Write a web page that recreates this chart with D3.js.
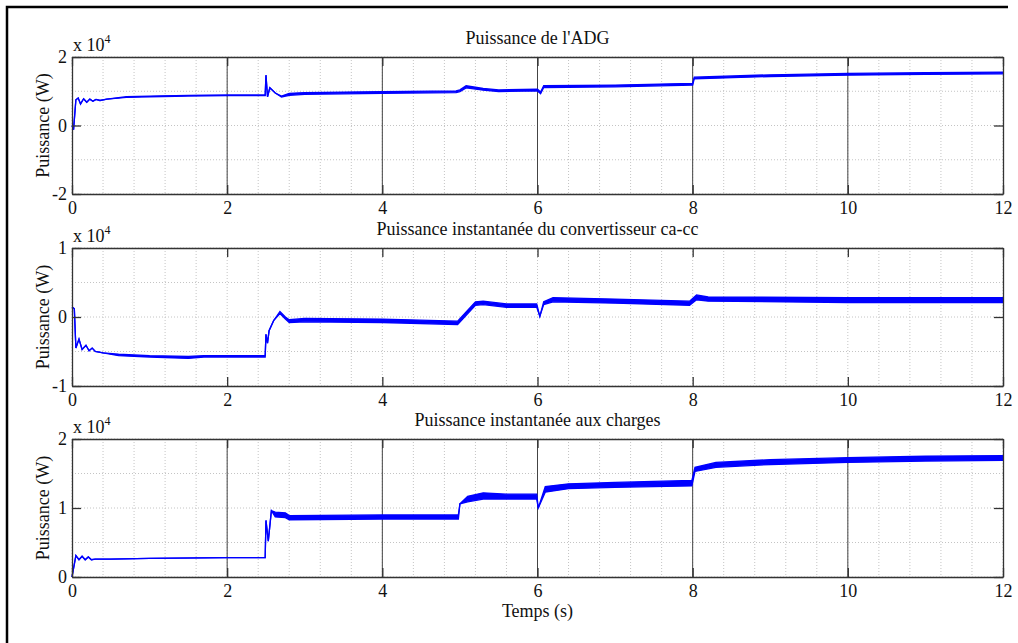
<!DOCTYPE html>
<html>
<head>
<meta charset="utf-8">
<script src="https://cdnjs.cloudflare.com/ajax/libs/d3/7.8.5/d3.min.js"></script>
<style>
  body { margin: 0; background: #fff; }
  text { font-family: "Liberation Serif", "Times New Roman", serif; fill: #111; }
</style>
</head>
<body>
<div id="chart"></div>
<script>
// Time ticks (s) and titles
var timeTicks = [0, 2, 4, 6, 8, 10, 12];
var titles = ["Puissance de l'ADG",
              "Puissance instantanée du convertisseur ca-cc",
              "Puissance instantanée aux charges"];

// Puissance de l'ADG (W) : low / high envelope of the ripple
var adgTime = [0, 0.02, 0.05, 0.08, 0.11, 0.15, 0.19, 0.23, 0.27, 0.31, 0.36, 0.45, 0.7, 1.0, 1.5, 2.0, 2.49,
               2.5, 2.52, 2.55, 2.62, 2.7, 2.8, 3.0, 4.0, 4.95, 5.0, 5.08, 5.3, 5.5, 6.0, 6.04, 6.08,
               7.0, 8.0, 8.02, 9.0, 10.0, 11.0, 12.0];
var adgLow  = [0, -1200, 7500, 8000, 6300, 7800, 6800, 7700, 7100, 7600, 7300, 7700, 8200, 8400, 8600, 8700, 8700,
               14700, 8400, 11000, 9500, 8300, 8800, 9100, 9400, 9600, 9900, 11000, 10300, 9900, 10100, 9300, 11100,
               11300, 11800, 13600, 14300, 14700, 14900, 15100];
var adgHigh = [0, -1200, 7500, 8000, 6300, 7800, 6800, 7700, 7100, 7600, 7300, 7700, 8400, 8600, 8800, 8900, 8900,
               14700, 8400, 11000, 9500, 8600, 9400, 9600, 9900, 10100, 10400, 11600, 10800, 10400, 10600, 9800, 11600,
               11800, 12300, 14100, 14800, 15200, 15400, 15600];

// Puissance du convertisseur ca-cc (W)
var convTime = [0, 0.03, 0.05, 0.09, 0.13, 0.18, 0.22, 0.26, 0.3, 0.4, 0.6, 1.0, 1.5, 1.7, 2.0, 2.49,
                2.5, 2.52, 2.54, 2.6, 2.68, 2.75, 2.8, 3.0, 4.0, 4.97, 5.2, 5.3, 5.6, 5.99, 6.03, 6.08,
                6.2, 7.0, 7.96, 8.05, 8.2, 10.0, 12.0];
var convLow  = [1500, 1200, -4500, -3200, -4700, -4100, -4900, -4500, -5000, -5200, -5600, -5800, -6000, -5800, -5800, -5800,
                -2500, -3800, -2000, -500, 500, -300, -800, -700, -800, -1100, 1700, 1800, 1400, 1400, 100, 1800,
                2200, 2000, 1700, 2500, 2300, 2100, 2100];
var convHigh = [1500, 1200, -4500, -3200, -4700, -4100, -4900, -4500, -5000, -5200, -5400, -5600, -5700, -5600, -5600, -5600,
                -2500, -3800, -2000, -500, 800, 0, -400, -200, -300, -600, 2200, 2300, 1900, 1900, 100, 2200,
                2800, 2600, 2300, 3200, 2900, 2800, 2800];

// Puissance instantanée aux charges (W)
var loadTime = [0, 0.05, 0.09, 0.13, 0.17, 0.21, 0.25, 0.3, 0.5, 1.0, 2.0, 2.49,
                2.5, 2.53, 2.57, 2.62, 2.75, 2.8, 4.0, 4.98, 5.0, 5.1, 5.3, 5.6, 5.99, 6.01, 6.1,
                6.4, 7.0, 7.99, 8.03, 8.3, 9.0, 10.0, 11.0, 12.0];
var loadLow  = [0, 3100, 2500, 3000, 2500, 2900, 2500, 2600, 2600, 2700, 2800, 2800,
                8200, 5200, 9600, 8700, 8600, 8300, 8400, 8400, 10600, 10900, 11300, 11300, 11300, 10000, 12300,
                12800, 13000, 13200, 15300, 15900, 16300, 16600, 16800, 16900];
var loadHigh = [0, 3100, 2500, 3000, 2500, 2900, 2500, 2600, 2600, 2700, 2800, 2800,
                8200, 5200, 9600, 9400, 9300, 8900, 9000, 9000, 10600, 11700, 12200, 12000, 12000, 10000, 13100,
                13500, 13700, 14000, 15900, 16600, 17000, 17300, 17500, 17600];

window.onload = function() {
    var W = 1018, H = 643;
    var left = 72, right = 1003;

    var svg = d3.select("#chart")
                .append("svg")
                .attr("width", W)
                .attr("height", H);

    // Figure frame (top and left edges)
    svg.append("path")
       .attr("d", "M1008,7H7V643")
       .attr("fill", "none")
       .attr("stroke", "#000")
       .attr("stroke-width", 2.5);

    var x = d3.scaleLinear().domain([0, 12]).range([left, right]);

    var panels = [
        { top: 57,  bottom: 194, yDomain: [-20000, 20000], yTicks: [-20000, 0, 20000], yGrid: 10000,
          t: adgTime, lo: adgLow, hi: adgHigh, solidMajor: true },
        { top: 248, bottom: 386, yDomain: [-10000, 10000], yTicks: [-10000, 0, 10000], yGrid: 5000,
          t: convTime, lo: convLow, hi: convHigh, solidMajor: false },
        { top: 439, bottom: 577, yDomain: [0, 20000], yTicks: [0, 10000, 20000], yGrid: 5000,
          t: loadTime, lo: loadLow, hi: loadHigh, solidMajor: true }
    ];

    panels.forEach(function(p, i) {
        var y = d3.scaleLinear().domain(p.yDomain).range([p.bottom, p.top]);
        var g = svg.append("g");

        // Minor grid (dotted)
        var xGrid = d3.range(0, 12.001, 0.4);
        g.selectAll(".vgrid")
         .data(xGrid)
         .enter()
         .append("line")
         .attr("x1", function(d) { return x(d); })
         .attr("x2", function(d) { return x(d); })
         .attr("y1", p.top)
         .attr("y2", p.bottom)
         .attr("stroke", "#c4c4c4")
         .attr("stroke-width", 1)
         .attr("stroke-dasharray", "1,2");

        var yGrid = d3.range(p.yDomain[0], p.yDomain[1] + 1, p.yGrid);
        g.selectAll(".hgrid")
         .data(yGrid)
         .enter()
         .append("line")
         .attr("x1", left)
         .attr("x2", right)
         .attr("y1", function(d) { return y(d); })
         .attr("y2", function(d) { return y(d); })
         .attr("stroke", "#c4c4c4")
         .attr("stroke-width", 1)
         .attr("stroke-dasharray", "1,2");

        // Solid lines at major time ticks
        if (p.solidMajor) {
            g.selectAll(".major")
             .data(timeTicks.slice(1, -1))
             .enter()
             .append("line")
             .attr("x1", function(d) { return x(d); })
             .attr("x2", function(d) { return x(d); })
             .attr("y1", p.top)
             .attr("y2", p.bottom)
             .attr("stroke", "#444")
             .attr("stroke-width", 1);
        }

        // Signal: ripple band plus its edges
        var pts = p.t.map(function(t, k) { return { t: t, lo: p.lo[k], hi: p.hi[k] }; });
        g.append("path")
         .datum(pts)
         .attr("fill", "#0000ff")
         .attr("d", d3.area()
                      .x(function(d) { return x(d.t); })
                      .y0(function(d) { return y(d.lo); })
                      .y1(function(d) { return y(d.hi); }));
        ["lo", "hi"].forEach(function(key) {
            g.append("path")
             .datum(pts)
             .attr("fill", "none")
             .attr("stroke", "#0000ff")
             .attr("stroke-width", 1.3)
             .attr("d", d3.line()
                          .x(function(d) { return x(d.t); })
                          .y(function(d) { return y(d[key]); }));
        });

        // Axes with inward ticks
        var fmt = function(d) { return d / 10000; };
        g.append("g")
         .attr("transform", "translate(0," + p.bottom + ")")
         .call(d3.axisBottom(x).tickValues(timeTicks).tickSizeInner(-9).tickSizeOuter(0).tickPadding(7));
        g.append("g")
         .attr("transform", "translate(0," + p.top + ")")
         .call(d3.axisTop(x).tickValues(timeTicks).tickSizeInner(-9).tickSizeOuter(0).tickFormat(""));
        g.append("g")
         .attr("transform", "translate(" + left + ",0)")
         .call(d3.axisLeft(y).tickValues(p.yTicks).tickSizeInner(-9).tickSizeOuter(0).tickPadding(5).tickFormat(fmt));
        g.append("g")
         .attr("transform", "translate(" + right + ",0)")
         .call(d3.axisRight(y).tickValues(p.yTicks).tickSizeInner(-9).tickSizeOuter(0).tickFormat(""));

        g.selectAll(".domain, .tick line").attr("stroke", "#333").attr("stroke-width", 1.3);
        g.selectAll(".tick text")
         .attr("fill", "#111")
         .style("font-family", "'Liberation Serif', 'Times New Roman', serif")
         .style("font-size", "18px");

        // Exponent label
        var ex = g.append("text")
         .attr("x", left + 1)
         .attr("y", p.top - 6)
         .style("font-size", "18px");
        ex.append("tspan").text("x 10");
        ex.append("tspan").attr("dy", -8).style("font-size", "12px").text("4");

        // Title
        g.append("text")
         .attr("x", (left + right) / 2)
         .attr("y", p.top - 13)
         .attr("text-anchor", "middle")
         .style("font-size", "18px")
         .text(titles[i]);

        // Y label
        g.append("text")
         .attr("transform", "translate(49," + (p.top + p.bottom) / 2 + ") rotate(-90)")
         .attr("text-anchor", "middle")
         .style("font-size", "18px")
         .text("Puissance (W)");
    });

    // X label
    svg.append("text")
       .attr("x", (left + right) / 2)
       .attr("y", 617)
       .attr("text-anchor", "middle")
       .style("font-size", "18px")
       .text("Temps (s)");
};
</script>
</body>
</html>
